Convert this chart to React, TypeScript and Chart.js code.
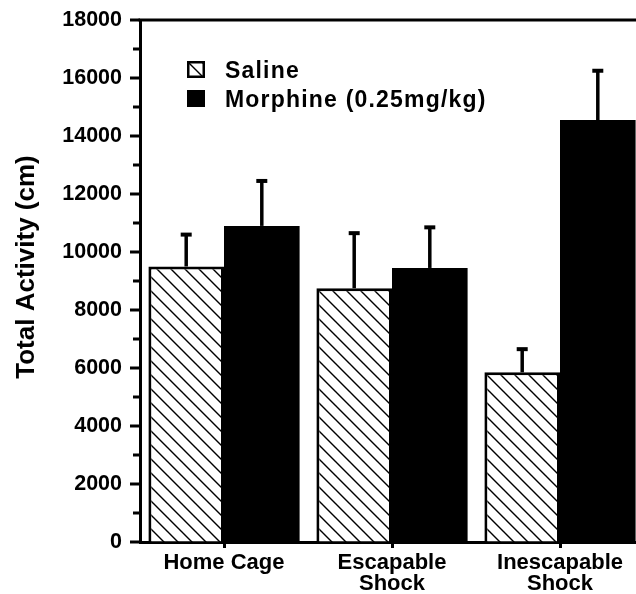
import React, { useEffect, useRef } from 'react';
import { Chart, registerables } from 'chart.js';

Chart.register(...registerables);

// ---- Data ----
const categories: string[][] = [['Home Cage'], ['Escapable', 'Shock'], ['Inescapable', 'Shock']];
const salineLabel = 'Saline';
const morphineLabel = 'Morphine (0.25mg/kg)';
const salineMeans = [9500, 8750, 5850];
const salineErrors = [1100, 1900, 800];
const morphineMeans = [10900, 9450, 14550];
const morphineErrors = [1550, 1400, 1700];
const yMin = 0;
const yMax = 18000;
const yMajorStep = 2000;
const yMinorStep = 1000;
const yTitle = 'Total Activity (cm)';

const SANS = '"Liberation Sans", Arial, Helvetica, sans-serif';

function makeHatch(ctx: CanvasRenderingContext2D): CanvasPattern {
  const size = 14;
  const c = document.createElement('canvas');
  c.width = size;
  c.height = size;
  const g = c.getContext('2d')!;
  g.fillStyle = '#fff';
  g.fillRect(0, 0, size, size);
  g.strokeStyle = '#000';
  g.lineWidth = 1.4;
  g.beginPath();
  g.moveTo(-2, -2);
  g.lineTo(size + 2, size + 2);
  g.moveTo(-2, size - 2);
  g.lineTo(2, size + 2);
  g.moveTo(size - 2, -2);
  g.lineTo(size + 2, 2);
  g.stroke();
  return ctx.createPattern(c, 'repeat')!;
}

const errorBarPlugin = {
  id: 'errorBars',
  afterDatasetsDraw(chart: any) {
    const ctx = chart.ctx as CanvasRenderingContext2D;
    const y = chart.scales.y;
    const errs = [salineErrors, morphineErrors];
    errs.forEach((e, di) => {
      const meta = chart.getDatasetMeta(di);
      meta.data.forEach((bar: any, i: number) => {
        const v = chart.data.datasets[di].data[i] as number;
        const base = y.getPixelForValue(v);
        const top = y.getPixelForValue(v + e[i]);
        ctx.save();
        ctx.strokeStyle = '#000';
        ctx.lineWidth = 3.5;
        ctx.beginPath();
        ctx.moveTo(bar.x, base);
        ctx.lineTo(bar.x, top);
        ctx.stroke();
        ctx.lineWidth = 4;
        ctx.beginPath();
        ctx.moveTo(bar.x - 5.5, top);
        ctx.lineTo(bar.x + 5.5, top);
        ctx.stroke();
        ctx.restore();
      });
    });
  },
};

const framePlugin = {
  id: 'frame',
  afterDraw(chart: any) {
    const ctx = chart.ctx as CanvasRenderingContext2D;
    const { chartArea } = chart;
    const y = chart.scales.y;
    ctx.save();
    ctx.strokeStyle = '#000';
    ctx.lineWidth = 3;
    ctx.beginPath();
    ctx.moveTo(chartArea.left - 1.5, chartArea.top);
    ctx.lineTo(chartArea.right, chartArea.top);
    ctx.stroke();
    for (let v = yMin; v <= yMax; v += yMinorStep) {
      const py = y.getPixelForValue(v);
      const len = v % yMajorStep === 0 ? 10 : 7;
      ctx.beginPath();
      ctx.moveTo(chartArea.left - len, py);
      ctx.lineTo(chartArea.left, py);
      ctx.stroke();
    }
    // y-axis title
    ctx.fillStyle = '#000';
    ctx.font = `bold 26px ${SANS}`;
    ctx.textAlign = 'center';
    ctx.textBaseline = 'alphabetic';
    ctx.translate(34, (chartArea.top + chartArea.bottom) / 2 - 14);
    ctx.rotate(-Math.PI / 2);
    ctx.fillText(yTitle, 0, 0);
    ctx.restore();
  },
};

const legendPlugin = {
  id: 'customLegend',
  afterDraw(chart: any) {
    const ctx = chart.ctx as CanvasRenderingContext2D;
    const { chartArea } = chart;
    const x0 = chartArea.left + 47;
    const rows = [chartArea.top + 41, chartArea.top + 70];
    ctx.save();
    chart.data.datasets.forEach((ds: any, i: number) => {
      const top = rows[i];
      ctx.fillStyle = ds.backgroundColor;
      ctx.fillRect(x0, top, 18, 17);
      ctx.strokeStyle = '#000';
      ctx.lineWidth = 2.5;
      ctx.strokeRect(x0 + 1.25, top + 1.25, 15.5, 14.5);
      ctx.fillStyle = '#000';
      ctx.font = `bold 23px ${SANS}`;
      (ctx as any).letterSpacing = '1.2px';
      ctx.textBaseline = 'alphabetic';
      ctx.textAlign = 'left';
      ctx.fillText(ds.label, x0 + 38, top + 16.5);
    });
    ctx.restore();
  },
};

export default function App() {
  const ref = useRef<HTMLCanvasElement | null>(null);

  useEffect(() => {
    const canvas = ref.current!;
    const ctx = canvas.getContext('2d')!;
    const hatch = makeHatch(ctx);
    const chart = new Chart(canvas, {
      type: 'bar',
      data: {
        labels: categories as any,
        datasets: [
          {
            label: salineLabel,
            data: salineMeans,
            backgroundColor: hatch as any,
            borderColor: '#000',
            borderWidth: 3,
            categoryPercentage: 0.9,
            barPercentage: 1,
          },
          {
            label: morphineLabel,
            data: morphineMeans,
            backgroundColor: '#000',
            borderColor: '#000',
            borderWidth: 0,
            categoryPercentage: 0.9,
            barPercentage: 1,
          },
        ],
      },
      options: {
        responsive: false,
        maintainAspectRatio: false,
        animation: false,
        layout: { padding: { left: 0, right: 0, top: 20, bottom: 0 } },
        plugins: {
          legend: { display: false },
          tooltip: { enabled: false },
        },
        scales: {
          x: {
            offset: true,
            afterFit: (s: any) => {
              s.height = 52;
              s.paddingLeft = 0;
              s.paddingRight = 0;
            },
            border: { display: true, color: '#000', width: 3 },
            grid: {
              offset: false,
              drawOnChartArea: false,
              drawTicks: true,
              tickLength: 6,
              tickWidth: 3,
              tickColor: '#000',
            },
            ticks: {
              color: '#000',
              padding: 4,
              autoSkip: false,
              maxRotation: 0,
              font: { family: SANS, size: 22, weight: 'bold', lineHeight: '21px' },
            },
          },
          y: {
            min: yMin,
            max: yMax,
            afterFit: (s: any) => {
              s.width = 140;
              s.paddingTop = 0;
              s.paddingBottom = 0;
            },
            border: { display: true, color: '#000', width: 3 },
            grid: { drawOnChartArea: false, drawTicks: false },
            ticks: {
              stepSize: yMinorStep,
              autoSkip: false,
              padding: 18,
              color: '#000',
              font: { family: SANS, size: 21.5, weight: 'bold' },
              callback: (v: any) => (Number(v) % yMajorStep === 0 ? String(v) : ''),
            },
          },
        },
      },
      plugins: [errorBarPlugin, framePlugin, legendPlugin],
    });
    return () => chart.destroy();
  }, []);

  return (
    <div
      style={{
        position: 'fixed',
        left: 0,
        top: 0,
        width: 636,
        height: 594,
        overflow: 'hidden',
        background: '#fff',
      }}
    >
      <canvas ref={ref} width={644} height={594} style={{ display: 'block' }} />
    </div>
  );
}
